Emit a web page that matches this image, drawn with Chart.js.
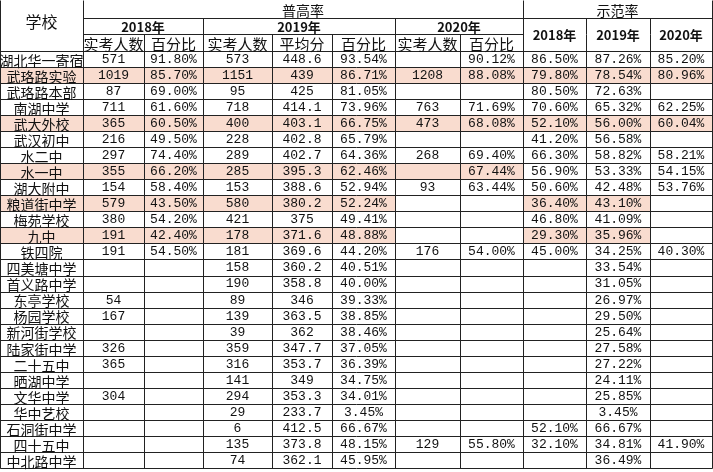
<!DOCTYPE html>
<html><head><meta charset="utf-8">
<script src="https://cdn.jsdelivr.net/npm/chart.js@4"></script>
<style>html,body{margin:0;padding:0;background:#fff}</style>
</head><body>
<canvas id="c" width="713" height="472"></canvas>
<script>
const schools=["湖北华一寄宿","武珞路实验","武珞路本部","南湖中学","武大外校","武汉初中","水二中","水一中","湖大附中","粮道街中学","梅苑学校","九中","铁四院","四美塘中学","首义路中学","东亭学校","杨园学校","新河街学校","陆家街中学","二十五中","晒湖中学","文华中学","华中艺校","石洞街中学","四十五中","中北路中学"];
const N=null;
const cnt18=[571,1019,87,711,365,216,297,355,154,579,380,191,191,N,N,54,167,N,326,365,N,304,N,N,N,N];
const pct18=[91.80,85.70,69.00,61.60,60.50,49.50,74.40,66.20,58.40,43.50,54.20,42.40,54.50,N,N,N,N,N,N,N,N,N,N,N,N,N];
const cnt19=[573,1151,95,718,400,228,289,285,153,580,421,178,181,158,190,89,139,39,359,316,141,294,29,6,135,74];
const avg19=[448.6,439,425,414.1,403.1,402.8,402.7,395.3,388.6,380.2,375,371.6,369.6,360.2,358.8,346,363.5,362,347.7,353.7,349,353.3,233.7,412.5,373.8,362.1];
const pct19=[93.54,86.71,81.05,73.96,66.75,65.79,64.36,62.46,52.94,52.24,49.41,48.88,44.20,40.51,40.00,39.33,38.85,38.46,37.05,36.39,34.75,34.01,3.45,66.67,48.15,45.95];
const cnt20=[N,1208,N,763,473,N,268,N,93,N,N,N,176,N,N,N,N,N,N,N,N,N,N,N,129,N];
const pct20=[90.12,88.08,N,71.69,68.08,N,69.40,67.44,63.44,N,N,N,54.00,N,N,N,N,N,N,N,N,N,N,N,55.80,N];
const sf18=[86.50,79.80,80.50,70.60,52.10,41.20,66.30,56.90,50.60,36.40,46.80,29.30,45.00,N,N,N,N,N,N,N,N,N,N,52.10,32.10,N];
const sf19=[87.26,78.54,72.63,65.32,56.00,56.58,58.82,53.33,42.48,43.10,41.09,35.96,34.25,33.54,31.05,26.97,29.50,25.64,27.58,27.22,24.11,25.85,3.45,66.67,34.81,36.49];
const sf20=[85.20,80.96,N,62.25,60.04,N,58.21,54.15,53.76,N,N,N,40.30,N,N,N,N,N,N,N,N,N,N,N,41.90,N];
const topHeads=["学校","普高率","示范率"];
const yearHeads=["2018年","2019年","2020年"];
const subHeads=["实考人数","百分比","实考人数","平均分","百分比","实考人数","百分比"];
const pinkRows={1:[0,1,2,3,4,5,6,7,8,9,10],4:[0,1,2,3,4,5,6,7,8,9,10],7:[0,1,2,3,4,5,6,7],9:[0,1,2,3,4,5,8,9],11:[0,1,2,3,4,5,8,9]};

const edges=[0,83,144,203,272,332,395,460,523,586,650,712];
const pctf=v=>v==null?"":v.toFixed(2)+"%";
const numf=v=>v==null?"":String(v);
const cols=[schools.map(s=>s),cnt18.map(numf),pct18.map(pctf),cnt19.map(numf),avg19.map(numf),pct19.map(pctf),cnt20.map(numf),pct20.map(pctf),sf18.map(pctf),sf19.map(pctf),sf20.map(pctf)];
const pts=[];
cols.forEach((c,ci)=>c.forEach((t,ri)=>pts.push({x:(edges[ci]+edges[ci+1])/2,y:ri+0.5,t,ci,ri})));

const tablePlugin={id:'table',afterDatasetsDraw(chart){
  const ctx=chart.ctx,xs=chart.scales.x,ys=chart.scales.y;
  const X=v=>Math.round(xs.getPixelForValue(v))+0.5, Y=v=>Math.round(ys.getPixelForValue(v))+0.5;
  const H0=-3.18,H1=-2.06,H2=-1.06;
  ctx.save();
  ctx.fillStyle="#f9dccf";
  for(const r in pinkRows){pinkRows[r].forEach(ci=>{
    ctx.fillRect(X(edges[ci]),Y(+r),X(edges[ci+1])-X(edges[ci]),Y(+r+1)-Y(+r));});}
  ctx.strokeStyle="#222";ctx.lineWidth=1;
  const L=(x1,y1,x2,y2)=>{ctx.beginPath();ctx.moveTo(X(x1),Y(y1));ctx.lineTo(X(x2),Y(y2));ctx.stroke();};
  const n=schools.length;
  for(let r=0;r<=n;r++)L(0,r,edges[11],r);
  L(edges[1],H1,edges[11],H1);L(edges[1],H2,edges[8],H2);
  edges.forEach((e,i)=>L(e,H2,e,n));
  L(0,H0,0,n);L(edges[1],H0,edges[1],0);L(edges[8],H0,edges[8],0);L(edges[11],H0,edges[11],0);
  [3,6,9,10].forEach(i=>L(edges[i],H1,edges[i],H2));
  ctx.fillStyle="#111";ctx.textAlign="center";ctx.textBaseline="middle";
  const T=(t,x,y,f,dy)=>{ctx.font=f;ctx.fillText(t,xs.getPixelForValue(x),ys.getPixelForValue(y)+(dy||0));};
  const hf="15px 'Noto Sans CJK SC'",bf="bold 13px 'Noto Sans CJK SC'",tf="14px 'Noto Sans CJK SC'";
  T(topHeads[0],edges[0]/2+edges[1]/2,(H0+0)/2-0.3,"16px 'Noto Sans CJK SC'",1.5);
  T(topHeads[1],(edges[1]+edges[8])/2,(H0+H1)/2,tf,1.5);
  T(topHeads[2],(edges[8]+edges[11])/2,(H0+H1)/2,tf,1.5);
  T(yearHeads[0],(edges[1]+edges[3])/2,(H1+H2)/2,bf,1);
  T(yearHeads[1],(edges[3]+edges[6])/2,(H1+H2)/2,bf,1);
  T(yearHeads[2],(edges[6]+edges[8])/2,(H1+H2)/2,bf,1);
  yearHeads.forEach((h,i)=>T(h,(edges[8+i]+edges[9+i])/2,(H1+0)/2,bf,1));
  subHeads.forEach((h,i)=>T(h,(edges[1+i]+edges[2+i])/2,(H2+0)/2,hf,1.5));
  chart.data.datasets[0].data.forEach(p=>{if(p.t)T(p.t,p.x,p.y,p.ci==0?tf:"13px 'Liberation Mono','DejaVu Sans Mono'",p.ci==0?1.5:0.5);});
  ctx.restore();
}};
new Chart(document.getElementById('c'),{type:'scatter',
  data:{datasets:[{data:pts,pointRadius:0}]},
  options:{responsive:false,animation:false,devicePixelRatio:1,layout:{padding:0},
    plugins:{legend:{display:false},tooltip:{enabled:false}},
    scales:{x:{type:'linear',min:0,max:713,display:false},y:{type:'linear',min:-3.18,max:26.25,reverse:true,display:false}}},
  plugins:[tablePlugin]});
</script>
</body></html>
